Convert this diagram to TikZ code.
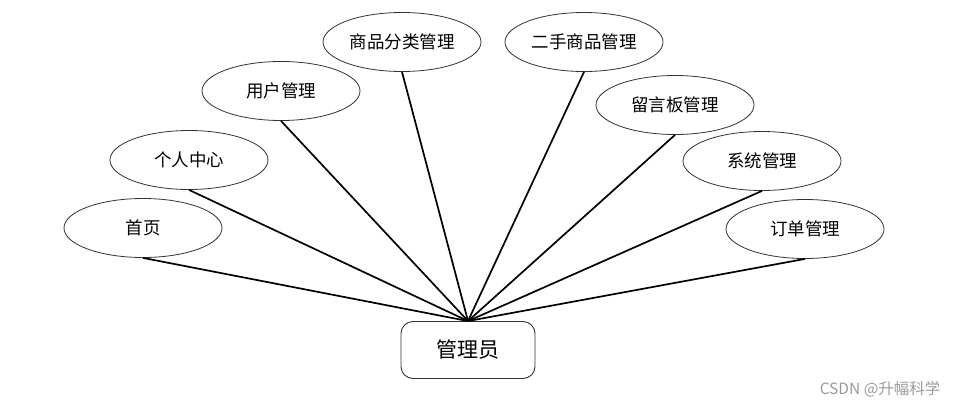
\documentclass[tikz,border=0pt]{standalone}
\usepackage{tikz}
\usetikzlibrary{shapes.geometric, positioning}
\usepackage{xcolor}
\usepackage{fontspec}
\newfontfamily\cjk{Noto Sans CJK SC}
\definecolor{EdgeG}{HTML}{333333}
\definecolor{MarkG}{HTML}{9A9A9A}
\tikzset{
  func/.style={
    ellipse, draw=EdgeG, fill=white, line width=0.8pt,
    minimum width=158pt, minimum height=59pt, inner sep=0pt,
    font=\cjk\fontsize{17.5}{20}\selectfont,
  },
  role/.style={
    rectangle, rounded corners=12pt, draw=EdgeG, fill=white,
    line width=0.9pt, minimum width=134pt, minimum height=57pt,
    font=\cjk\fontsize{21}{24}\selectfont,
  },
  link/.style={line width=1.7pt, color=black},
}
\begin{document}
\begin{tikzpicture}[x=1pt,y=-1pt]
  \useasboundingbox (0,0) rectangle (959,410);
  \node[role] (admin) at (468,350) {管理员};
  \foreach \n/\lbl/\x/\y in {home/首页/143/228, self/个人中心/189/160,
                            user/用户管理/281/91, cat/商品分类管理/402/42,
                            used/二手商品管理/584/42, board/留言板管理/675/105,
                            sys/系统管理/762/161, order/订单管理/805/229}{
    \node[func] (\n) at (\x,\y) {\lbl};
    \draw[link] (\n.south) -- (admin.north);
  }
  \node[font=\cjk\fontsize{15.5}{18}\selectfont, text=MarkG, anchor=east] (mark) at (944,389) {CSDN @升幅科学};
\end{tikzpicture}
\end{document}
